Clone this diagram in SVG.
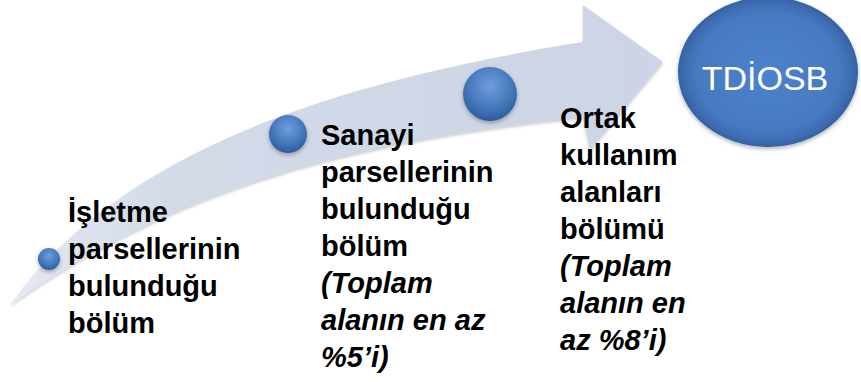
<svg xmlns="http://www.w3.org/2000/svg" width="861" height="382" viewBox="0 0 861 382">
  <defs>
    <linearGradient id="bandGrad" x1="0" y1="0" x2="1" y2="0">
      <stop offset="0" stop-color="#E4E9F2"/>
      <stop offset="0.25" stop-color="#D3DAE8"/>
      <stop offset="1" stop-color="#CCD4E5"/>
    </linearGradient>
    <radialGradient id="ballGrad" cx="0.5" cy="0.35" r="0.65">
      <stop offset="0" stop-color="#6E9DDB"/>
      <stop offset="0.55" stop-color="#4A7DC0"/>
      <stop offset="0.9" stop-color="#3464A6"/>
      <stop offset="1" stop-color="#2C5894"/>
    </radialGradient>
    <radialGradient id="bigGrad" cx="0.5" cy="0.5" r="0.5">
      <stop offset="0" stop-color="#4D83CC"/>
      <stop offset="0.8" stop-color="#4579C0"/>
      <stop offset="0.95" stop-color="#3A6AAE"/>
      <stop offset="1" stop-color="#33609F"/>
    </radialGradient>
    <filter id="shadow" x="-20%" y="-20%" width="140%" height="140%">
      <feDropShadow dx="0" dy="2" stdDeviation="2" flood-color="#000" flood-opacity="0.3"/>
    </filter>
    <filter id="bandShadow" x="-5%" y="-5%" width="110%" height="115%">
      <feDropShadow dx="0" dy="2" stdDeviation="1.5" flood-color="#6A7080" flood-opacity="0.35"/>
    </filter>
  </defs>
  <style>
    .ball { fill: url(#ballGrad); filter: url(#shadow); }
    .lbl { font-family: "Liberation Sans", Arial, sans-serif; font-weight: bold; font-size: 29px; fill: #000; }
    .it { font-style: italic; }
    .big { font-family: "Liberation Sans", Arial, sans-serif; font-size: 34px; fill: #FFFFFF; text-anchor: middle; }
  </style>

  <g id="connectors">
    <path id="arrow" d="M 10,305 C 120,151 333,82 583,42 L 583,5 L 663,62 L 590,150 L 583,117 C 333,142 165,196 10,305 Z" fill="url(#bandGrad)" filter="url(#bandShadow)"/>
  </g>

  <g id="ball1"><circle class="ball" cx="49" cy="259" r="11"/></g>
  <g id="ball2"><circle class="ball" cx="288" cy="134" r="19"/></g>
  <g id="ball3"><circle class="ball" cx="490" cy="94" r="27"/></g>

  <g id="tdiosb">
    <ellipse cx="768" cy="72" rx="90" ry="75" fill="url(#bigGrad)" filter="url(#shadow)"/>
    <text class="big" x="765" y="90">TDİOSB</text>
  </g>

  <g id="label1">
    <text class="lbl" x="68" y="222">İşletme</text>
    <text class="lbl" x="68" y="259">parsellerinin</text>
    <text class="lbl" x="68" y="296">bulunduğu</text>
    <text class="lbl" x="68" y="333">bölüm</text>
  </g>

  <g id="label2">
    <text class="lbl" x="321" y="145">Sanayi</text>
    <text class="lbl" x="321" y="182">parsellerinin</text>
    <text class="lbl" x="321" y="219">bulunduğu</text>
    <text class="lbl" x="321" y="256">bölüm</text>
    <text class="lbl it" x="321" y="293">(Toplam</text>
    <text class="lbl it" x="321" y="330">alanın en az</text>
    <text class="lbl it" x="321" y="367">%5’i)</text>
  </g>

  <g id="label3">
    <text class="lbl" x="560" y="128">Ortak</text>
    <text class="lbl" x="560" y="165">kullanım</text>
    <text class="lbl" x="560" y="202">alanları</text>
    <text class="lbl" x="560" y="239">bölümü</text>
    <text class="lbl it" x="560" y="276">(Toplam</text>
    <text class="lbl it" x="560" y="313">alanın en</text>
    <text class="lbl it" x="560" y="350">az %8’i)</text>
  </g>
</svg>
